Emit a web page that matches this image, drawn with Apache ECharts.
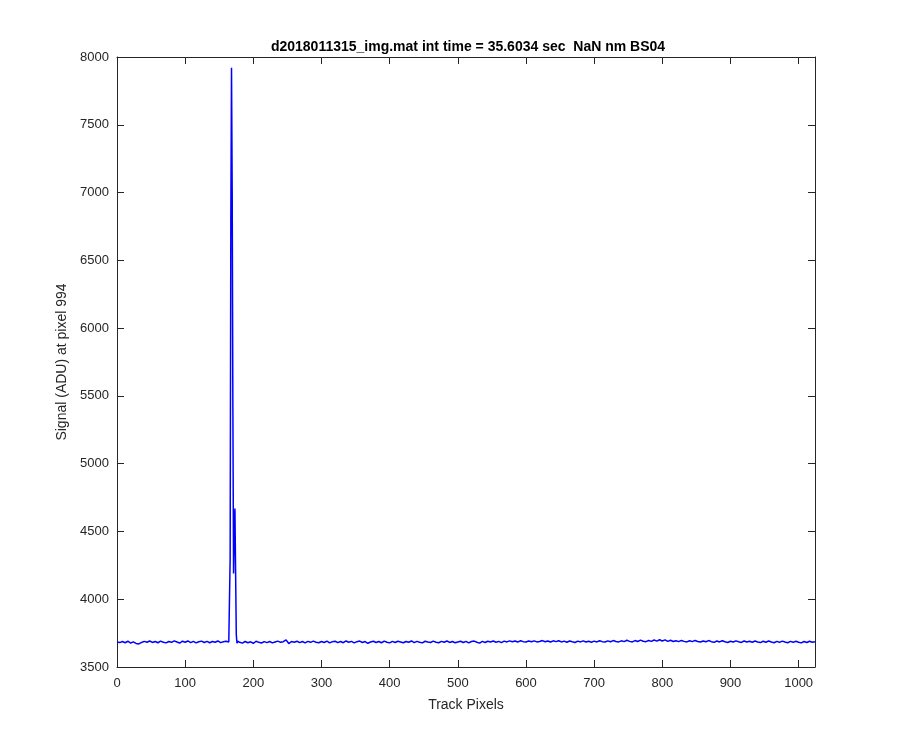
<!DOCTYPE html>
<html>
<head>
<meta charset="utf-8">
<script src="https://cdn.jsdelivr.net/npm/echarts@6/dist/echarts.min.js"></script>
<style>html,body{margin:0;padding:0;background:#fff}#c{width:900px;height:750px}</style>
</head>
<body>
<div id="c"></div>
<script>
const titleText = 'd2018011315_img.mat int time = 35.6034 sec  NaN nm BS04';
const xLabel = 'Track Pixels';
const yLabel = 'Signal (ADU) at pixel 994';

// baseline before peak, sampled every 4 pixels starting at 0
const preStart = 0, preStep = 4;
const preSignal = [3684,3680,3688,3679,3690,3677,3685,3674,3670,3681,3689,3683,3692,3681,3688,3679,3691,3683,3678,3688,3682,3693,3684,3677,3690,3683,3692,3680,3689,3678,3686,3691,3681,3689,3679,3688,3683,3692,3680,3686,3690,3684];
// peak region, every pixel
const peakPixels = [165,166,167,168,169,170,171,172,173,174,175,176,177,178];
const peakSignal = [3690,4300,6800,7920,7000,5400,4190,4500,4670,4200,3740,3675,3690,3681];
// baseline after peak, sampled every 4 pixels starting at 180
const postStart = 180, postStep = 4;
const postSignal = [
3682,3676,3688,3679,3686,3675,3690,3682,3677,3687,
3680,3688,3678,3685,3691,3682,3687,3700,3673,3688,
3683,3690,3680,3688,3678,3689,3682,3691,3683,3679,
3688,3681,3691,3678,3687,3690,3680,3688,3679,3692,
3683,3689,3678,3687,3691,3681,3688,3675,3684,3690,
3681,3688,3679,3691,3683,3678,3689,3681,3690,3685,
3679,3688,3683,3692,3680,3689,3683,3678,3690,3685,
3681,3691,3683,3679,3689,3683,3692,3681,3688,3679,
3685,3690,3681,3689,3678,3688,3691,3683,3676,3689,
3681,3690,3685,3692,3683,3689,3680,3691,3685,3693,
3686,3692,3684,3694,3687,3684,3692,3686,3693,3685,
3688,3695,3686,3692,3684,3693,3687,3694,3685,3691,
3683,3692,3686,3681,3691,3685,3693,3684,3690,3683,
3691,3685,3694,3687,3684,3693,3686,3695,3688,3685,
3693,3687,3697,3689,3685,3695,3688,3698,3690,3687,
3695,3689,3699,3691,3701,3692,3700,3689,3697,3688,
3694,3687,3696,3689,3685,3694,3687,3696,3688,3684,
3692,3686,3695,3687,3682,3692,3685,3694,3686,3681,
3690,3684,3693,3686,3681,3692,3684,3690,3683,3692,
3685,3680,3690,3683,3692,3684,3679,3689,3682,3691,
3684,3679,3689,3682,3690,3683,3678,3688,3681,3690,
3683,3687];

const xMin = 0, xMax = 1024, xInterval = 100;
const yMin = 3500, yMax = 8000, yInterval = 500;

const data = [];
preSignal.forEach((v,i)=>data.push([preStart + i*preStep, v]));
peakSignal.forEach((v,i)=>data.push([peakPixels[i], v]));
postSignal.forEach((v,i)=>data.push([postStart + i*postStep, v]));

const font = 'Liberation Sans, Arial, Helvetica, sans-serif';
const axisColor = '#262626';
const chart = echarts.init(document.getElementById('c'), null, {renderer:'canvas'});
const plain = v => String(v);

function xAx(pos, show){
  return {type:'value', position:pos, min:xMin, max:xMax, interval:xInterval,
    axisLine:{show:true, onZero:false, lineStyle:{color:axisColor, width:1}},
    axisTick:{show:true, inside:true, length:7, lineStyle:{color:axisColor}},
    axisLabel:{show:show, color:axisColor, fontFamily:font, fontSize:13, margin:10, showMaxLabel:false, formatter:plain},
    splitLine:{show:false},
    name: show ? xLabel : '', nameLocation:'middle', nameGap:31,
    nameTextStyle:{color:axisColor, fontFamily:font, fontSize:14}};
}
function yAx(pos, show){
  return {type:'value', position:pos, min:yMin, max:yMax, interval:yInterval,
    axisLine:{show:true, onZero:false, lineStyle:{color:axisColor, width:1}},
    axisTick:{show:true, inside:true, length:7, lineStyle:{color:axisColor}},
    axisLabel:{show:show, color:axisColor, fontFamily:font, fontSize:13, margin:8, formatter:plain},
    splitLine:{show:false},
    name: show ? yLabel : '', nameLocation:'middle', nameGap:47, nameRotate:90,
    nameTextStyle:{color:axisColor, fontFamily:font, fontSize:14}};
}

chart.setOption({
  backgroundColor:'#fff',
  animation:false,
  title:{text:titleText, left:463, top:35, textAlign:'center',
    textStyle:{fontFamily:font, fontSize:14, fontWeight:'bold', color:'#000'}},
  grid:{left:117, right:85, top:57, bottom:83, containLabel:false},
  xAxis:[xAx('bottom', true), xAx('top', false)],
  yAxis:[yAx('left', true), yAx('right', false)],
  series:[{type:'line', data:data, xAxisIndex:0, yAxisIndex:0, showSymbol:false,
    lineStyle:{color:'#0000ff', width:1.5}, clip:true}]
});
</script>
</body>
</html>
